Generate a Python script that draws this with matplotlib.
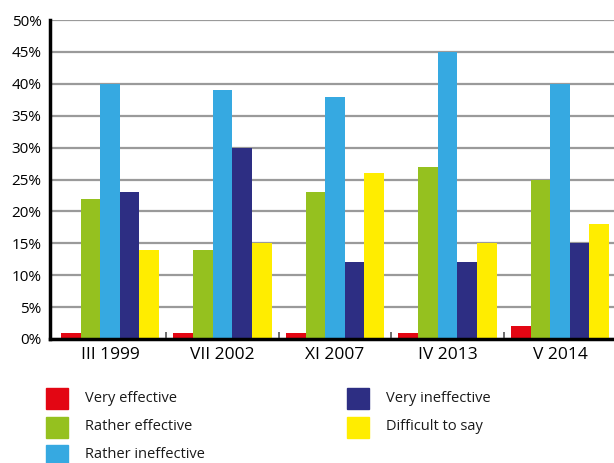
import matplotlib
matplotlib.use("Agg")
import matplotlib.pyplot as plt
from matplotlib.patches import Rectangle
import numpy as np

plt.rcParams['font.family'] = ['Open Sans', 'DejaVu Sans']

periods = ["III 1999", "VII 2002", "XI 2007", "IV 2013", "V 2014"]
series_names = ["Very effective", "Rather effective", "Rather ineffective",
                "Very ineffective", "Difficult to say"]
very_effective = [1, 1, 1, 1, 2]
rather_effective = [22, 14, 23, 27, 25]
rather_ineffective = [40, 39, 38, 45, 40]
very_ineffective = [23, 30, 12, 12, 15]
difficult_to_say = [14, 15, 26, 15, 18]
y_ticks = [0, 5, 10, 15, 20, 25, 30, 35, 40, 45, 50]

values = [very_effective, rather_effective, rather_ineffective,
          very_ineffective, difficult_to_say]
colors = ["#E30613", "#95C11F", "#36A9E1", "#2D2E83", "#FFED00"]

fig = plt.figure(figsize=(6.14, 4.63), dpi=100)
ax = fig.add_axes([50 / 614, 1 - 339 / 463, 1 - 50 / 614, (339 - 20) / 463])

x = np.arange(len(periods))
w = 0.1745
for i, (vals, c) in enumerate(zip(values, colors)):
    ax.bar(x + (i - 2) * w, vals, width=w, color=c, zorder=3, linewidth=0)

ax.set_xlim(-0.533, 4.48)
ax.set_ylim(0, 50)
ax.set_yticks(y_ticks)
ax.set_yticklabels([f"{v}%" for v in y_ticks], fontsize=11)
ax.yaxis.grid(True, color="#9a9a9a", linewidth=1.6, zorder=0)
ax.set_axisbelow(True)
ax.tick_params(axis='y', length=0, pad=6)

ax.set_xticks(x)
ax.set_xticklabels(periods, fontsize=12.5)
ax.tick_params(axis='x', length=0, pad=6)
ax.set_xticks(x[:-1] + 0.5, minor=True)
ax.tick_params(axis='x', which='minor', direction='in', length=5,
               width=1.2, color="#555555")

for s in ["top", "right"]:
    ax.spines[s].set_visible(False)
ax.spines["left"].set_linewidth(2.5)
ax.spines["bottom"].set_linewidth(2.5)
ax.spines["left"].set_zorder(4)
ax.spines["bottom"].set_zorder(4)

# legend drawn in figure pixel coordinates, filled column by column
W, H = 614, 463
positions = [(46, 398), (46, 427), (46, 455), (347, 398), (347, 427)]
for name, c, (px, py) in zip(series_names, colors, positions):
    fig.patches.append(Rectangle((px / W, 1 - (py + 10.5) / H), 22 / W, 21 / H,
                                 transform=fig.transFigure, color=c))
    fig.text((px + 39) / W, 1 - py / H, name, fontsize=10.5,
             va='center', ha='left', color="#1a1a1a")

fig.savefig("out.png", dpi=100)
